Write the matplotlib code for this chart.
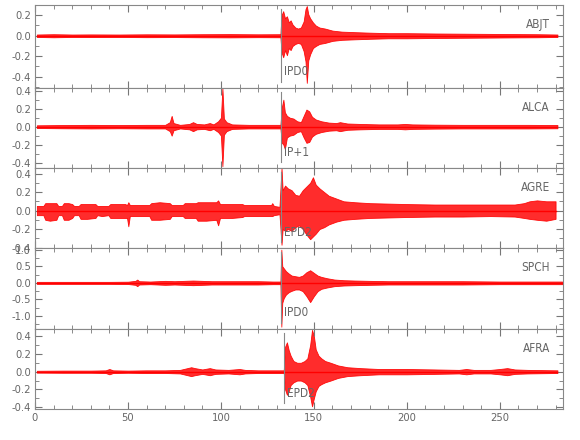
import matplotlib
matplotlib.use('Agg')
import matplotlib.pyplot as plt
from matplotlib.ticker import MultipleLocator, FormatStrFormatter

plt.rcParams['font.family'] = ['Liberation Sans Narrow', 'DejaVu Sans']
plt.rcParams['font.stretch'] = 'condensed'

# envelope of each trace (time in s, upper and lower amplitude)
abjt_t = [1, 10, 20, 30, 45, 60, 75, 90, 105, 120,
          132, 132.6, 133.5, 134.5, 135.5, 136.5, 137.5, 138.5, 140, 141.5,
          143, 144.5, 145.5, 146.2, 147, 148, 149.5, 151, 153, 156,
          160, 165, 172, 180, 190, 200, 215, 230, 245, 260,
          270, 281]
abjt_hi = [0.012, 0.015, 0.012, 0.013, 0.012, 0.014, 0.013, 0.015, 0.016, 0.014,
           0.015, 0.20, 0.24, 0.17, 0.19, 0.13, 0.15, 0.11, 0.08, 0.07,
           0.08, 0.14, 0.26, 0.29, 0.21, 0.17, 0.13, 0.10, 0.08, 0.07,
           0.05, 0.04, 0.035, 0.03, 0.025, 0.025, 0.022, 0.02, 0.018, 0.016,
           0.015, 0.012]
abjt_lo = [-0.012, -0.015, -0.012, -0.013, -0.012, -0.014, -0.013, -0.015, -0.016, -0.014,
           -0.015, -0.16, -0.21, -0.14, -0.19, -0.12, -0.14, -0.10, -0.08, -0.07,
           -0.08, -0.15, -0.25, -0.46, -0.24, -0.18, -0.12, -0.10, -0.08, -0.07,
           -0.05, -0.04, -0.035, -0.03, -0.025, -0.025, -0.022, -0.02, -0.018, -0.016,
           -0.015, -0.012]

alca_t = [1, 15, 30, 45, 60, 70, 72.5, 73.5, 74.5, 78,
          83, 85, 87, 91, 94, 96, 98.5, 100, 100.8, 101.6,
          103, 106, 115, 125, 132, 132.8, 133.6, 134.4, 135.5, 137,
          139, 141, 143, 144.5, 146, 147.5, 149, 151, 154, 158,
          162, 164, 168, 175, 185, 195, 199, 203, 215, 230,
          250, 265, 281]
alca_hi = [0.015, 0.018, 0.02, 0.018, 0.02, 0.02, 0.05, 0.12, 0.04, 0.02,
           0.03, 0.05, 0.03, 0.025, 0.04, 0.025, 0.06, 0.10, 0.43, 0.09,
           0.05, 0.025, 0.02, 0.02, 0.02, 0.22, 0.30, 0.16, 0.12, 0.10,
           0.09, 0.06, 0.05, 0.12, 0.19, 0.17, 0.11, 0.08, 0.06, 0.045,
           0.04, 0.05, 0.035, 0.03, 0.025, 0.025, 0.03, 0.025, 0.022, 0.02,
           0.02, 0.02, 0.018]
alca_lo = [-0.015, -0.018, -0.02, -0.018, -0.02, -0.02, -0.05, -0.10, -0.04, -0.02,
           -0.03, -0.05, -0.03, -0.025, -0.04, -0.025, -0.06, -0.10, -0.44, -0.09,
           -0.05, -0.025, -0.02, -0.02, -0.02, -0.18, -0.20, -0.25, -0.12, -0.10,
           -0.09, -0.06, -0.05, -0.12, -0.18, -0.17, -0.11, -0.08, -0.06, -0.045,
           -0.04, -0.05, -0.035, -0.03, -0.025, -0.025, -0.03, -0.025, -0.022, -0.02,
           -0.02, -0.02, -0.018]

agre_t = [1, 4.5, 5.5, 8, 11.5, 12.5, 14.5, 15.5, 18, 20,
          21, 23.5, 24.5, 28, 32.5, 33.5, 36, 39.5, 40.5, 44,
          48.5, 49.5, 50.2, 51, 56, 61.5, 62.5, 67, 72.5, 73.5,
          76, 79.5, 80.5, 84, 86.5, 87.5, 92, 97.5, 98.5, 99.5,
          101, 106, 111.5, 112.5, 118, 123, 127, 127.6, 128.5, 131.5,
          132.6, 133.2, 134.5, 136, 138, 140, 142, 144, 146, 148,
          149.5, 151, 153, 155.5, 158, 162, 166, 172, 180, 190,
          200, 215, 230, 245, 258, 263, 266, 270, 275, 280]
agre_hi = [0.05, 0.05, 0.08, 0.08, 0.08, 0.05, 0.05, 0.08, 0.08, 0.07,
           0.05, 0.05, 0.07, 0.07, 0.07, 0.05, 0.05, 0.05, 0.07, 0.07,
           0.07, 0.06, 0.09, 0.06, 0.06, 0.06, 0.08, 0.09, 0.08, 0.06,
           0.06, 0.06, 0.08, 0.08, 0.08, 0.09, 0.09, 0.09, 0.11, 0.07,
           0.07, 0.07, 0.07, 0.06, 0.06, 0.06, 0.06, 0.08, 0.05, 0.04,
           0.46, 0.22, 0.27, 0.24, 0.22, 0.17, 0.16, 0.22, 0.26, 0.30,
           0.36, 0.28, 0.24, 0.20, 0.16, 0.13, 0.10, 0.09, 0.08, 0.075,
           0.07, 0.065, 0.065, 0.065, 0.065, 0.08, 0.10, 0.11, 0.10, 0.10]
agre_lo = [-0.05, -0.05, -0.10, -0.11, -0.10, -0.05, -0.05, -0.10, -0.10, -0.08,
           -0.05, -0.05, -0.09, -0.09, -0.08, -0.05, -0.06, -0.05, -0.08, -0.08,
           -0.08, -0.08, -0.17, -0.06, -0.06, -0.06, -0.10, -0.10, -0.09, -0.06,
           -0.06, -0.06, -0.08, -0.08, -0.08, -0.11, -0.11, -0.10, -0.16, -0.08,
           -0.08, -0.08, -0.07, -0.06, -0.06, -0.06, -0.06, -0.06, -0.05, -0.04,
           -0.37, -0.20, -0.22, -0.20, -0.22, -0.18, -0.16, -0.20, -0.26, -0.31,
           -0.28, -0.25, -0.20, -0.18, -0.15, -0.12, -0.10, -0.09, -0.08, -0.075,
           -0.07, -0.065, -0.065, -0.06, -0.065, -0.08, -0.09, -0.10, -0.11, -0.09]

spch_t = [1, 20, 40, 50, 54, 55, 56, 62, 70, 75,
          80, 85, 90, 95, 100, 110, 120, 128, 132, 132.5,
          133, 133.8, 135, 136.5, 138, 140, 142, 144, 146, 148,
          150, 152, 154, 157, 161, 166, 172, 180, 190, 200,
          215, 230, 250, 265, 283.5]
spch_hi = [0.03, 0.03, 0.03, 0.035, 0.06, 0.10, 0.05, 0.04, 0.06, 0.05,
           0.06, 0.07, 0.06, 0.05, 0.05, 0.05, 0.05, 0.04, 0.04, 1.0,
           0.5, 0.44, 0.35, 0.28, 0.22, 0.2, 0.18, 0.22, 0.32, 0.38,
           0.30, 0.22, 0.18, 0.14, 0.10, 0.08, 0.07, 0.06, 0.05, 0.05,
           0.05, 0.05, 0.04, 0.04, 0.04]
spch_lo = [-0.03, -0.03, -0.03, -0.035, -0.06, -0.10, -0.05, -0.04, -0.06, -0.05,
           -0.06, -0.07, -0.06, -0.05, -0.05, -0.05, -0.05, -0.04, -0.04, -1.32,
           -0.6, -0.46, -0.35, -0.28, -0.24, -0.2, -0.2, -0.25, -0.40, -0.58,
           -0.40, -0.25, -0.18, -0.14, -0.10, -0.08, -0.07, -0.06, -0.05, -0.05,
           -0.05, -0.05, -0.04, -0.04, -0.04]

afra_t = [1, 15, 30, 38, 40, 42, 50, 60, 70, 78,
          82, 84, 86, 90, 94, 97, 104, 110, 113, 120,
          128, 133.8, 134.5, 135.5, 136.5, 137.5, 139, 141, 143, 145,
          146.5, 148, 149, 150, 151, 152.5, 154, 156, 159, 163,
          168, 175, 185, 200, 215, 228, 232, 236, 245, 250,
          254, 258, 265, 281]
afra_hi = [0.01, 0.012, 0.012, 0.015, 0.03, 0.015, 0.012, 0.015, 0.015, 0.02,
           0.04, 0.05, 0.04, 0.025, 0.04, 0.025, 0.02, 0.03, 0.02, 0.015,
           0.015, 0.015, 0.28, 0.33, 0.24, 0.18, 0.12, 0.10, 0.10, 0.12,
           0.15, 0.30, 0.47, 0.40, 0.25, 0.18, 0.15, 0.12, 0.10, 0.07,
           0.05, 0.04, 0.03, 0.03, 0.025, 0.02, 0.03, 0.02, 0.02, 0.03,
           0.04, 0.025, 0.02, 0.015]
afra_lo = [-0.01, -0.012, -0.012, -0.015, -0.03, -0.015, -0.012, -0.015, -0.015, -0.02,
           -0.04, -0.05, -0.04, -0.025, -0.04, -0.025, -0.02, -0.03, -0.02, -0.015,
           -0.015, -0.015, -0.20, -0.26, -0.22, -0.15, -0.12, -0.10, -0.10, -0.12,
           -0.15, -0.28, -0.39, -0.30, -0.22, -0.16, -0.14, -0.12, -0.10, -0.07,
           -0.05, -0.04, -0.03, -0.03, -0.025, -0.02, -0.03, -0.02, -0.02, -0.03,
           -0.04, -0.025, -0.02, -0.015]

stations = ['ABJT', 'ALCA', 'AGRE', 'SPCH', 'AFRA']
phases = ['IPD0', 'IP+1', 'EPD2', 'IPD0', 'EPD2']
pick_times = [132.5, 132.5, 132.5, 132.5, 134.0]
traces = [(abjt_t, abjt_hi, abjt_lo), (alca_t, alca_hi, alca_lo),
          (agre_t, agre_hi, agre_lo), (spch_t, spch_hi, spch_lo),
          (afra_t, afra_hi, afra_lo)]
ylims = [(-0.51, 0.30), (-0.46, 0.43), (-0.405, 0.46), (-1.39, 1.05), (-0.42, 0.48)]
ysteps = [0.2, 0.2, 0.2, 0.5, 0.2]

gray = '#666666'
fig = plt.figure(figsize=(5.8, 4.4), dpi=100)
# panel edges in pixels from top
edges = [5, 88, 168, 248, 329, 409]
left, right = 35 / 580, 563 / 580

for i, name in enumerate(stations):
    top = 1 - edges[i] / 440
    bot = 1 - edges[i + 1] / 440
    ax = fig.add_axes([left, bot, right - left, top - bot])
    t, hi, lo = traces[i]
    ax.fill_between(t, lo, hi, facecolor='#ff1a1a', edgecolor='#ff0000', lw=0.6, alpha=0.92)
    ax.plot(t, [0] * len(t), color='#ff0000', lw=1.0)
    ax.axvline(pick_times[i], ymin=0.07, ymax=0.95, color='#888888', lw=0.8)
    ax.text(pick_times[i] + 1.5, 0.2, phases[i], transform=ax.get_xaxis_transform(),
            fontsize=8.5, color=gray, va='center')
    ax.text(0.975, 0.76, name, transform=ax.transAxes, ha='right', va='center',
            fontsize=8.5, color=gray)
    ax.set_xlim(0, 284)
    ax.set_ylim(*ylims[i])
    ax.xaxis.set_major_locator(MultipleLocator(50))
    ax.xaxis.set_minor_locator(MultipleLocator(10))
    ax.yaxis.set_major_locator(MultipleLocator(ysteps[i]))
    ax.yaxis.set_minor_locator(MultipleLocator(ysteps[i] / 2))
    ax.yaxis.set_major_formatter(FormatStrFormatter('%.1f'))
    ax.tick_params(which='both', direction='in', top=True, right=True,
                   color='#777777', labelcolor=gray, labelsize=8, pad=3)
    ax.tick_params(which='major', length=5)
    ax.tick_params(which='minor', length=3)
    for s in ax.spines.values():
        s.set_color('#888888')
        s.set_linewidth(0.8)
    if i < len(stations) - 1:
        ax.tick_params(labelbottom=False)

fig.savefig('out.png', dpi=100)
